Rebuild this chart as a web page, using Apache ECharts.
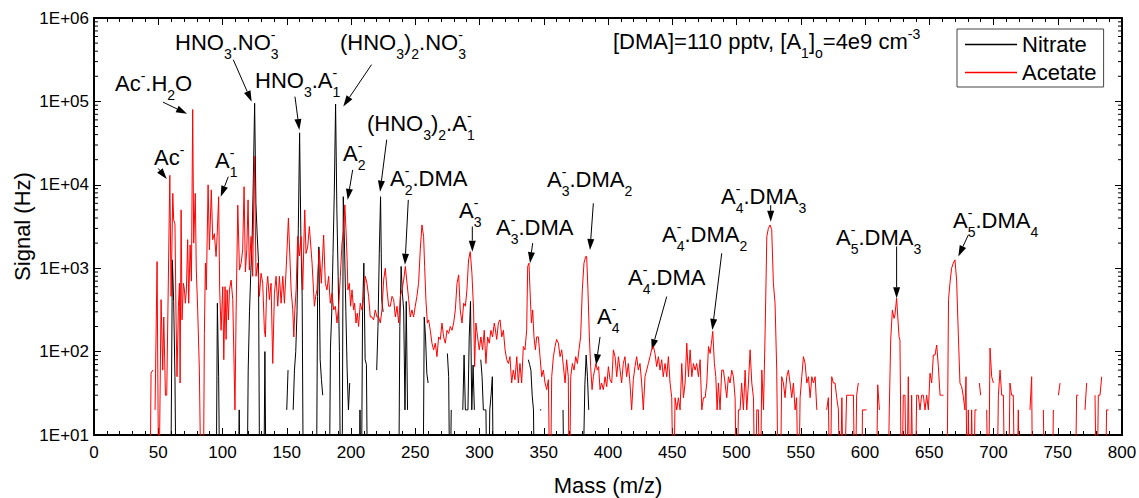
<!DOCTYPE html>
<html><head><meta charset="utf-8">
<script src="https://cdn.jsdelivr.net/npm/echarts@6/dist/echarts.min.js"></script>
<style>html,body{margin:0;padding:0;background:#fff;}#c{width:1139px;height:498px;}</style>
</head><body><div id="c"></div>
<script>
const FONT = '"Liberation Sans", Arial, Helvetica, sans-serif';
const seriesNames = ['Nitrate', 'Acetate'];
const xTickValues = [0, 50, 100, 150, 200, 250, 300, 350, 400, 450, 500, 550, 600, 650, 700, 750, 800];
const yTickLabels = ['1E+01', '1E+02', '1E+03', '1E+04', '1E+05', '1E+06'];

// Nitrate spectrum: [mass, signal]; null = no data (gap), values < 10 fall below the axis
const nitrateLow = [
  [59.6,1],[61,1260],[62,400],[63,50],[64,1],[64.5,null],
  [95,1],[96,380],[97,50],[98,1],[98.5,null],
  [112,1],[113,20],[114,1],[114.5,null],
  [119,1],[120,60],[121,300],[122,870],[123,2000],[124,12000],[125,95000],[126,6000],[127,2500],[128,1200],[129,1],[129.5,null],
  [132,1],[133,100],[134,1],[134.5,null],
  [150,20],[151,60],[151.5,null],
  [155,20],[156,60],[157,100],[158,300],[159,3000],[160,42000],[161,2400],[162,460],[163,1],[163.5,null],
  [173,1],[174,460],[175,1800],[176,80],[177,46],[178,30],[178.5,null]
];
const nitrateMid = [
  [183,1],[184,110],[185,290],[186,1500],[187,8000],[188,93000],[189,5000],[190,800],[191,100],[192,1],[193,1],[194,7200],[195,1700],[196,300],[197,60],[198,20],[199,42],[199.5,null],
  [206,1],[207,20],[208,1],[209,300],[210,1150],[211,80],[212,70],[213,1],[213.5,null],
  [220,60],[221,200],[222,1500],[223,7200],[224,400],[225,300],[225.5,null],
  [237,1],[238,200],[239,1050],[240,500],[241,316],[242,20],[243,400],[244,20],[244.5,null],
  [256,1],[257,260],[258,150],[259,55],[260,42],[260.5,null],
  [275,95],[276,50],[277,1],[278,20],[278.5,null]
];
const nitrateHigh = [
  [287,20],[288,91],[289,20],[290,20],[291,20],[292,150],[293,400],[294,20],[295,69],[296,20],[296.5,null],
  [301,80],[302,50],[303,20],[304,20],[305,20],[306,1],[307,1],[308,20],[309,30],[310,50],[311,1],[311.5,null],
  [338,80],[339,70],[340,60],[341,30],[342,20],[343,1],[343.5,null],
  [347,20],[348,20],[348.5,null],
  [365,20],[366,1],[366.5,null],
  [380,1],[382,40],[383,91],[384,50],[385,20]
];

// Acetate spectrum: [mass, signal]
const acetateLow = [
  [43.5,1],[44.4,55],[45.7,60],[46.5,null],
  [47.5,20],[49.1,1200],[50.4,1],[52.2,420],[53.5,60],[54.3,260],[55.6,30],[56.6,30],[59,13000],[60,460],[61.3,7900],[62,3800],[63,3400],[63.9,220],[64.6,50],[65.7,350],[66.5,660],[67,42],[67.8,5000],[68.5,240],[69.6,660],[70.4,550],[71.1,380],[71.9,550],[72.9,2200],[73.7,380],[74.8,1900],[75.8,700],[76.8,80000],[77.6,2000],[78.8,7900],[79.6,950],[80.7,316],[82,60],[83.5,1],[85,1],[85.9,165],[86.7,1150],[87.4,550],[88.8,10000],[89.8,1660],[91.3,8700],[92.4,2200],[93.7,2600],[95,1380],[95.8,2400],[97,7200],[97.8,550],[98.9,180],[100.2,600],[101,80],[102,600],[102.8,140],[103.6,550],[104.6,240],[105.4,550],[106.7,720],[108,420],[109.7,20],[110.6,300],[111.9,5700],[113.2,950],[114.5,1150],[115.7,1660],[116.8,9500],[117.8,900],[118.9,1660],[119.9,6600],[120.9,950],[122.2,2400],[123.5,800],[124.8,22000],[126.1,800],[127.4,1150],[128.7,460],[130,870],[131.3,660],[132.6,180],[133.4,150],[134.4,600],[135.2,800],[136.5,420],[137.8,660],[139.1,72],[140.4,500],[141.7,800],[143,350],[144.3,800],[145.6,380],[146.9,800],[148.2,380],[149.5,950],[151.3,4000],[153.4,550],[154.7,316],[155.5,150],[156.3,316],[157.3,550],[158.5,2400],[159.8,1400],[161.1,2400],[162.4,550],[164,5000],[165,1500],[166.3,1800],[167.6,3160],[169.7,1150],[171.5,350],[172.5,460]
];
const acetateMid = [
  [173.5,550],[175.3,1660],[176.9,660],[178.7,2500],[180,660],[181.3,550],[182.6,800],[183.9,380],[185.2,500],[186.5,316],[187.8,350],[189.1,220],[190.4,350],[191.7,800],[193,2000],[194.3,2900],[195.2,5750],[196.1,2900],[196.9,1380],[197.6,550],[198.7,660],[199.7,350],[200.8,550],[202,316],[202.8,380],[203.9,220],[204.9,290],[205.9,200],[207.2,380],[208.5,316],[209.8,460],[211.1,800],[212.4,660],[213.7,460],[215,260],[216.3,260],[217.6,240],[218.9,316],[220.2,260],[221.5,260],[222.8,220],[224.1,316],[225.4,720],[226.7,1000],[228,550],[229.3,350],[230.6,350],[231.9,460],[233.2,420],[234.5,260],[235.8,350],[237.1,220],[238.4,460],[239.7,550],[241,720],[242.3,1050],[243.6,660],[244.9,420],[246.1,260],[247.4,316],[248.7,260],[250,350],[251.3,460],[252.6,660],[253.9,1660],[255.2,3300],[256.5,2400],[257.3,1050],[258.3,420],[259.4,220],[260.4,240],[261.7,180],[263,126],[264.3,105],[265.6,126],[266.9,87],[268.2,150],[269.5,140],[270.8,220],[272.1,150],[273.4,126],[274.7,180],[276,165],[277.3,200],[278.6,180],[279.9,220],[281.2,316],[282.5,660],[283.8,830],[285,316],[286.4,220],[287.7,380],[289,350],[290.2,550],[291.5,1260],[292.8,1580],[294.1,870],[295.4,316],[296.2,66],[297.2,220],[298.5,150],[299.8,105],[301.1,150],[302.4,105],[303.7,180],[305,72],[306.3,150],[307.6,126],[308.9,180],[310.2,150],[311.5,220]
];
const acetateHigh = [
  [312,200],[313.4,140],[314.7,220],[316,240],[317.3,150],[318.6,180],[319.9,105],[321.2,80],[322.5,72],[323.7,87],[325,42],[326.3,60],[327.6,46],[329,87],[330.2,42],[331.5,72],[332.8,42],[334.1,115],[335.4,105],[336.7,180],[337.5,1050],[338.5,1150],[339.3,550],[340.4,220],[341.4,316],[342.4,150],[343.5,105],[344.5,150],[345.8,150],[347.1,87],[348.4,50],[349.7,60],[351,42],[352.3,35],[353.6,46],[355,1],[356.2,50],[357.5,87],[358.8,115],[360,140],[361.4,126],[362.7,87],[364,105],[365.3,66],[366.6,42],[367.8,80],[369.1,50],[369.9,1],[371,50],[372.3,72],[373.6,60],[374.9,87],[376.2,72],[377.4,105],[378.7,150],[380,550],[381.3,1150],[382.6,1380],[383.4,1380],[384.4,550],[385.5,150],[386.5,66],[387.6,35],[388.6,50],[389.6,60],[390.6,72],[391.7,60],[392.7,66],[393.8,35],[395,42],[396.4,35],[397.7,50],[399,38],[400.3,66],[401.6,46],[402.9,42],[404.2,105],[405.5,87],[406.8,50],[408.1,87],[409.4,60],[410.6,42],[411.9,72],[413.2,87],[414.5,50],[415.8,72],[417.1,42],[418.4,20],[419.7,46],[421,66],[422.3,87],[423.6,60],[424.9,72],[426.2,42],[427.5,20],[428.8,50],[430.1,60],[431.4,72],[432.7,87],[433.9,105],[435.3,115],[436.6,95],[437.9,66],[439.2,87],[440.5,60],[441.8,80],[443,50],[444.4,72],[445.7,50],[447,87],[448.3,42],[449.6,28],[450.9,1]
];
const acetateTail = [
  [452.2,28],[453.5,20],[454.8,28],[456.1,20],[457.4,72],[458.7,28],[460,42],[461.3,126],[462.6,50],[463.9,105],[465.2,50],[466.5,72],[467.8,60],[469,72],[470.4,50],[471.7,80],[473,20],[474.3,28],[475.6,28],[476.9,42],[478.2,115],[479.5,95],[480.8,140],[481.5,175],[482.8,72],[483.9,50],[484.9,20],[485.9,42],[487.2,20],[488.5,60],[489.8,60],[491.1,42],[492.4,28],[493.7,50],[495,42],[496.3,60],[497.6,50],[498.9,28],[500.2,1],[501.5,20],[502.8,20],[504,42],[505.4,20],[506.7,60],[508,20],[509.3,42],[510.6,105],[511.9,42],[513.2,28],[514.5,1],[515.8,20],[517,20],[518.4,1],[519.7,60],[521,20],[522.3,180],[523.6,2400],[524.8,3000],[526.1,3300],[527.4,2900],[528.7,660],[530,380],[531.3,60],[532.6,1],[533.9,1],[535.2,50],[536.5,42],[537.8,28],[539.1,50],[540.4,60],[541.7,42],[543,28],[544.3,42],[545.6,20],[546.8,28],[548.2,1],[549.5,28],[550.8,50],[552.1,87],[553.4,72],[554.7,42],[556,50],[557.3,28],[558.6,50],[559.9,42],[561.2,50],[562.5,20],[563,null],
  [570.2,20],[571.5,28],[572.8,1],[574.1,50],[575.4,42],[576.7,42],[578,28],[579.3,20],[580.6,1],[582,28],[583.3,1],[585.7,30],[588.3,30],[591,30],[592.2,1],[593.5,30],[594.8,42],[595.5,null],
  [597.4,1],[598,20],[601.3,20],[602,null],
  [608.6,1],[609.9,40],[611.2,20],[612,null],
  [617.6,1],[618.9,20],[620,138],[621.3,316],[622.6,250],[623.3,275],[624.6,437],[626.5,150],[627.2,138],[628.5,1],[629.8,30],[631.1,30],[632.4,1],[633.7,50],[635,1],[636.3,30],[637.6,1],[638.9,1],[640.2,30],[641.5,30],[642.8,20],[644.1,30],[645.4,30],[646.7,20],[648,30],[649.3,20],[650.6,55],[651.9,42],[653.2,91],[654.5,91],[655.8,120],[657.1,66],[658.4,30],[659.7,30],[661,30],[661.5,null],
  [663.6,1],[665,420],[666.1,660],[667.4,1000],[668.7,1150],[670,1260],[671.3,720],[672.6,166],[673.9,42],[675.2,38],[676.5,29],[677.8,20],[678.6,50],[679.6,1],[680.4,20],[681.7,1],[683,20],[684.3,1],[685.6,20],[687,20],[687.5,null],
  [689,42],[690,30],[690.5,null],
  [694.7,20],[696,1],[697.3,110],[698.6,50],[699.9,42],[700.5,null],
  [702.5,1],[703.8,30],[705.1,60],[706.4,30],[707.7,30],[709,1],[711.5,1],[712.8,42],[714.1,30],[715.4,30],[716.7,1],[718,1],[719.3,20],[720.6,1],[721,null],
  [728.4,20],[729.7,50],[730.5,1],[731,null],
  [738.8,20],[740,1],[740.5,null],
  [745.5,1],[746.6,20],[747,null],
  [750.5,30],[751.8,42],[752.3,null],
  [763.4,1],[764.7,30],[766,30],[766.5,null],
  [771.2,20],[772.5,42],[773,null],
  [779,30],[780.3,1],[781.6,30],[782.9,30],[784.2,50],[784.7,null],
  [786.8,1],[788,20],[789.4,20]
];

// Annotation texts (string = normal text, object = stacked superscript / subscript)
const annotationTexts = [
  ['Ac', {sup:'-'}, '.H', {sub:'2'}, 'O'],
  ['Ac', {sup:'-'}],
  ['A', {sup:'-', sub:'1'}],
  ['HNO', {sub:'3'}, '.NO', {sup:'-', sub:'3'}],
  ['HNO', {sub:'3'}, '.A', {sup:'-', sub:'1'}],
  ['(HNO', {sub:'3'}, ')', {sub:'2'}, '.NO', {sup:'-', sub:'3'}],
  ['(HNO', {sub:'3'}, ')', {sub:'2'}, '.A', {sup:'-', sub:'1'}],
  ['A', {sup:'-', sub:'2'}],
  ['A', {sup:'-', sub:'2'}, '.DMA'],
  ['A', {sup:'-', sub:'3'}],
  ['A', {sup:'-', sub:'3'}, '.DMA'],
  ['A', {sup:'-', sub:'3'}, '.DMA', {sub:'2'}],
  ['A', {sup:'-', sub:'4'}],
  ['A', {sup:'-', sub:'4'}, '.DMA'],
  ['A', {sup:'-', sub:'4'}, '.DMA', {sub:'2'}],
  ['A', {sup:'-', sub:'4'}, '.DMA', {sub:'3'}],
  ['A', {sup:'-', sub:'5'}, '.DMA', {sub:'3'}],
  ['A', {sup:'-', sub:'5'}, '.DMA', {sub:'4'}],
  ['[DMA]=110 pptv, [A', {sub:'1'}, ']', {sub:'o'}, '=4e9 cm', {sup:'-3'}]
];
// label anchor (left x, cap-centre y) in pixels
const annotationLayout = [
  [115,83],[154,157.5],[215,160.5],[175,42.5],[255,80],[340,42.5],[367,123.3],[343,153],[390,178.3],
  [459,210.5],[496,227],[547,179.5],[597,316],[628,277.5],[662,234],[721,196],[836,237],[953,220],[613,41]
];
// arrows: [tailMass, tailSignal, tipMass, tipSignal]
const annotationArrows = [
  [53.7,98000,72.4,71000],
  [50,15700,56.6,11700],
  [104.5,12500,98.6,7200],
  [108.4,316000,122.7,99000],
  [156.4,114000,159.8,45400],
  [216,276000,194,87000],
  [227.8,34800,222.6,8260],
  [201.3,15100,197.4,6600],
  [244.6,6600,242,1100],
  [294.4,3160,294.4,1580],
  [341.4,2000,339.3,1150],
  [388.6,6000,386,1650],
  [393.8,150,390.7,69],
  [445.7,457,434,104],
  [488.5,1510,481.2,182],
  [526.6,5700,526.6,3600],
  [624.6,1820,624.6,437],
  [680.4,2500,672.6,1380]
];

function toSeriesData(pairs) { return pairs.map(p => [p[0], p[1] === null ? '-' : p[1]]); }
const nitrate = toSeriesData(nitrateLow.concat(nitrateMid, nitrateHigh));
const acetate = toSeriesData(acetateLow.concat(acetateMid, acetateHigh, acetateTail));

const chart = echarts.init(document.getElementById('c'), null, {renderer: 'svg'});
const axisLineStyle = {color: '#000', width: 2};
function xAxisCfg(pos, showLabel) {
  return {
    type: 'value', position: pos, min: 0, max: 800, interval: 50,
    axisLine: {show: true, onZero: false, lineStyle: axisLineStyle},
    axisTick: {show: true, inside: true, length: 7, lineStyle: {color: '#000', width: 1}},
    minorTick: {show: true, splitNumber: 5, length: 4, lineStyle: {color: '#000', width: 1}},
    splitLine: {show: false}, minorSplitLine: {show: false},
    axisLabel: {show: showLabel, color: '#000', fontSize: 17, fontFamily: FONT, margin: 9},
    name: showLabel ? 'Mass (m/z)' : '', nameLocation: 'middle', nameGap: 39, nameMoveOverlap: false,
    nameTextStyle: {color: '#000', fontSize: 22, fontFamily: FONT, lineHeight: 22}
  };
}
function yAxisCfg(pos, showLabel) {
  return {
    type: 'log', logBase: 10, position: pos, min: 10, max: 1e6,
    axisLine: {show: true, onZero: false, lineStyle: axisLineStyle},
    axisTick: {show: true, inside: true, length: 7, lineStyle: {color: '#000', width: 1}},
    splitLine: {show: false},
    axisLabel: {show: showLabel, color: '#000', fontSize: 17, fontFamily: FONT, margin: 5,
      formatter: v => yTickLabels[Math.round(Math.log10(v)) - 1] || ''},
    name: showLabel ? 'Signal (Hz)' : '', nameLocation: 'middle', nameGap: 61, nameMoveOverlap: false,
    nameTextStyle: {color: '#000', fontSize: 22, fontFamily: FONT}
  };
}

chart.setOption({
  animation: false,
  backgroundColor: '#fff',
  grid: {left: 94, right: 17, top: 18, bottom: 63, containLabel: false, outerBoundsMode: 'none'},
  xAxis: [xAxisCfg('bottom', true), xAxisCfg('top', false)],
  yAxis: [yAxisCfg('left', true), yAxisCfg('right', false)],
  legend: {
    data: [{name: seriesNames[0], icon: 'rect'}, {name: seriesNames[1], icon: 'rect'}],
    orient: 'vertical', left: 957, top: 29,
    itemWidth: 52, itemHeight: 1.5, itemGap: 5, padding: [4, 7, 3, 8],
    borderColor: '#444', borderWidth: 1, backgroundColor: '#fff',
    textStyle: {color: '#000', fontSize: 22, fontFamily: FONT, lineHeight: 23}
  },
  series: [
    {name: seriesNames[0], type: 'line', data: nitrate, xAxisIndex: 0, yAxisIndex: 0, symbol: 'none', showSymbol: false,
     connectNulls: false, clip: true, lineStyle: {color: '#000', width: 1}, itemStyle: {color: '#000'}},
    {name: seriesNames[1], type: 'line', data: acetate, xAxisIndex: 0, yAxisIndex: 0, symbol: 'none', showSymbol: false,
     connectNulls: false, clip: true, lineStyle: {color: '#ff0000', width: 1}, itemStyle: {color: '#ff0000'}}
  ]
});

// ---- annotations, log minor ticks ----
const BIG = 22, SMALL = 14, SUP_DY = -7.5, SUB_DY = 11.5;
const meas = document.createElement('canvas').getContext('2d');
function textW(s, size) { meas.font = size + 'px ' + FONT; return meas.measureText(s).width; }
function txt(s, x, y, size) {
  return {type: 'text', x: x, y: y, silent: true,
    style: {text: s, fill: '#000', font: size + 'px ' + FONT, align: 'left', verticalAlign: 'middle'}};
}
function buildLabel(parts, x0, yc) {
  const els = []; let x = x0;
  parts.forEach(p => {
    if (typeof p === 'string') { els.push(txt(p, x, yc, BIG)); x += textW(p, BIG); }
    else {
      let w = 0;
      if (p.sup) { els.push(txt(p.sup, x, yc + SUP_DY, SMALL)); w = Math.max(w, textW(p.sup, SMALL)); }
      if (p.sub) { els.push(txt(p.sub, x, yc + SUB_DY, SMALL)); w = Math.max(w, textW(p.sub, SMALL)); }
      x += w;
    }
  });
  return els;
}
function toPx(m, v) { return chart.convertToPixel({xAxisIndex: 0, yAxisIndex: 0}, [m, v]); }
function arrowEls(a) {
  const [x1, y1] = toPx(a[0], a[1]);
  const [x2, y2] = toPx(a[2], a[3]);
  const dx = x2 - x1, dy = y2 - y1, L = Math.hypot(dx, dy), ux = dx / L, uy = dy / L;
  const hl = 11, hw = 3.5, bx = x2 - ux * hl, by = y2 - uy * hl;
  return [
    {type: 'line', silent: true, shape: {x1: x1, y1: y1, x2: bx, y2: by}, style: {stroke: '#000', lineWidth: 1}},
    {type: 'polygon', silent: true, shape: {points: [[x2, y2], [bx - uy * hw, by + ux * hw], [bx + uy * hw, by - ux * hw]]}, style: {fill: '#000'}}
  ];
}
const els = [];
annotationTexts.forEach((parts, i) => { els.push(...buildLabel(parts, annotationLayout[i][0], annotationLayout[i][1])); });
annotationArrows.forEach(a => els.push(...arrowEls(a)));
const gx0 = toPx(0, 10)[0], gx1 = toPx(800, 10)[0];
for (let d = 1; d <= 5; d++) {
  for (let k = 2; k <= 9; k++) {
    const py = toPx(0, k * Math.pow(10, d))[1];
    els.push({type: 'line', silent: true, shape: {x1: gx0, y1: py, x2: gx0 + 4, y2: py}, style: {stroke: '#000', lineWidth: 1}});
    els.push({type: 'line', silent: true, shape: {x1: gx1 - 4, y1: py, x2: gx1, y2: py}, style: {stroke: '#000', lineWidth: 1}});
  }
}
chart.setOption({graphic: {elements: els}});
</script>
</body></html>
